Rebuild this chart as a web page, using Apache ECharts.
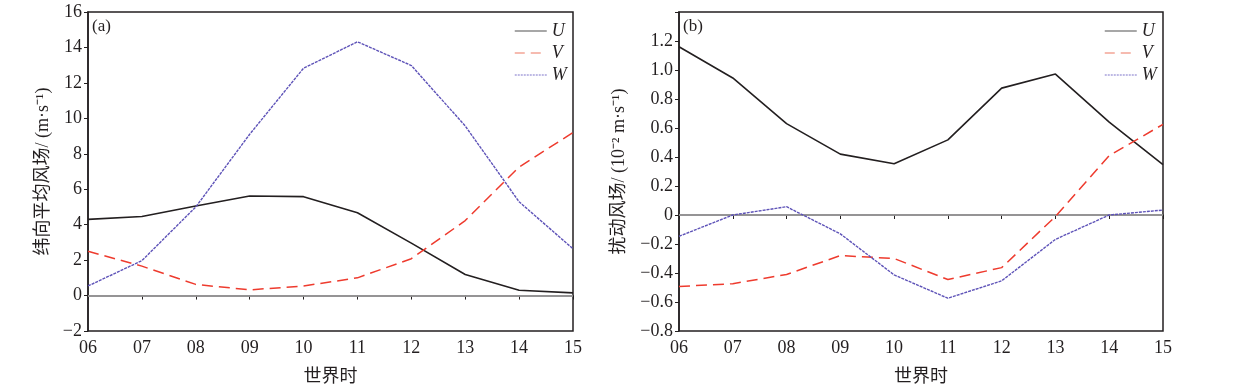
<!DOCTYPE html>
<html>
<head>
<meta charset="utf-8">
<script src="https://cdn.jsdelivr.net/npm/echarts@6/dist/echarts.min.js"></script>
<style>
  html, body { margin: 0; padding: 0; background: #fff; }
  #main { width: 1239px; height: 391px; }
</style>
</head>
<body>
<div id="main"></div>
<script>
// 时次
var hours = ['06', '07', '08', '09', '10', '11', '12', '13', '14', '15'];
// (a) 纬向平均风场
var meanU = [4.3, 4.46, 5.05, 5.62, 5.58, 4.67, 2.96, 1.19, 0.3, 0.15];
var meanV = [2.5, 1.66, 0.63, 0.32, 0.54, 1.0, 2.08, 4.23, 7.25, 9.2];
var meanW = [0.54, 1.97, 5.0, 9.1, 12.83, 14.32, 12.98, 9.57, 5.29, 2.64];
// (b) 扰动风场
var pertU = [1.16, 0.945, 0.63, 0.42, 0.354, 0.518, 0.875, 0.972, 0.64, 0.348];
var pertV = [-0.493, -0.474, -0.41, -0.28, -0.30, -0.445, -0.363, -0.01, 0.41, 0.625];
var pertW = [-0.147, 0.0, 0.057, -0.13, -0.413, -0.574, -0.454, -0.168, 0.0, 0.034];

var serif = '"Liberation Serif", "Times New Roman", serif';
var cjk = '"Liberation Serif", "Noto Sans CJK SC", serif';
var txt = '#231f20';

var styles = {
    U: { color: '#231f20', width: 1.6, type: 'solid' },
    V: { color: '#ee3b2e', width: 1.5, type: [11, 6] },
    W: { color: '#5e53b8', width: 1.4, type: [3, 1] }
};
// 图例里的线颜色偏浅
var legendLines = [
    { name: 'U', lineStyle: { color: '#8a8a8a', width: 1.5, type: 'solid' } },
    { name: 'V', lineStyle: { color: '#f3a596', width: 1.5, type: [10, 6] } },
    { name: 'W', lineStyle: { color: '#a9a3dc', width: 1.5, type: [2, 1] } }
];

function minus(s) { return String(s).replace('-', '\u2212'); }

function makeSeries(name, data, idx, zero) {
    var s = {
        name: name,
        type: 'line',
        data: data,
        xAxisIndex: idx,
        yAxisIndex: idx,
        symbol: 'none',
        lineStyle: styles[name],
        itemStyle: { color: styles[name].color },
        z: 3
    };
    if (zero) {
        s.markLine = {
            silent: true,
            symbol: 'none',
            label: { show: false },
            lineStyle: { color: '#aaaaaa', width: 1.5, type: 'solid' },
            data: [{ yAxis: 0 }],
            z: 1
        };
    }
    return s;
}

function xAxis(idx) {
    return {
        type: 'category',
        gridIndex: idx,
        data: hours,
        boundaryGap: false,
        name: '世界时',
        nameLocation: 'middle',
        nameGap: 37,
        nameTextStyle: { fontFamily: cjk, fontSize: 18, color: txt },
        axisLine: { lineStyle: { color: '#231f20', width: 1.5 } },
        axisTick: { alignWithLabel: true, length: 4, lineStyle: { color: '#231f20' } },
        axisLabel: { fontFamily: serif, fontSize: 18, color: txt, margin: 8 },
        splitLine: { show: false }
    };
}

function legend(left) {
    return {
        data: legendLines, orient: 'vertical', left: left, top: 17,
        itemWidth: 32, itemHeight: 10, itemGap: 4,
        itemStyle: { opacity: 0 },
        textStyle: { fontFamily: serif, fontStyle: 'italic', fontSize: 18, color: txt }
    };
}

var option = {
    animation: false,
    backgroundColor: '#fff',
    grid: [
        { left: 88, top: 12, width: 485, height: 322, show: true, borderColor: '#231f20', borderWidth: 1.5 },
        { left: 679, top: 12, width: 484, height: 323, show: true, borderColor: '#231f20', borderWidth: 1.5 }
    ],
    legend: [legend(509), legend(1099)],
    graphic: [
        { type: 'text', left: 92, top: 18, style: { text: '(a)', font: '17px "Liberation Serif"', fill: txt } },
        { type: 'text', left: 683, top: 18, style: { text: '(b)', font: '17px "Liberation Serif"', fill: txt } }
    ],
    xAxis: [xAxis(0), xAxis(1)],
    yAxis: [
        {
            type: 'value', gridIndex: 0, min: -2, max: 16, interval: 2,
            name: '纬向平均风场/ (m·s⁻¹)',
            nameLocation: 'middle', nameGap: 36,
            nameTextStyle: { fontFamily: cjk, fontSize: 18, color: txt },
            axisLine: { show: true, lineStyle: { color: '#231f20', width: 1.5 } },
            axisTick: { show: true, length: 4, lineStyle: { color: '#231f20' } },
            axisLabel: { fontFamily: serif, fontSize: 18, color: txt, margin: 6, formatter: function (v) { return minus(v); } },
            splitLine: { show: false }
        },
        {
            type: 'value', gridIndex: 1, min: -0.8, max: 1.4, interval: 0.2,
            name: '扰动风场/ (10⁻² m·s⁻¹)',
            nameLocation: 'middle', nameGap: 51,
            nameTextStyle: { fontFamily: cjk, fontSize: 18, color: txt },
            axisLine: { show: true, lineStyle: { color: '#231f20', width: 1.5 } },
            axisTick: { show: true, length: 4, lineStyle: { color: '#231f20' } },
            axisLabel: {
                fontFamily: serif, fontSize: 18, color: txt, margin: 6,
                formatter: function (v) {
                    if (v > 1.3) return '';
                    if (Math.abs(v) < 1e-9) return '0';
                    return minus(v.toFixed(1));
                }
            },
            splitLine: { show: false }
        }
    ],
    series: [
        makeSeries('U', meanU, 0, true),
        makeSeries('V', meanV, 0, false),
        makeSeries('W', meanW, 0, false),
        makeSeries('U', pertU, 1, true),
        makeSeries('V', pertV, 1, false),
        makeSeries('W', pertW, 1, false)
    ]
};

var myChart = echarts.init(document.getElementById('main'));
myChart.setOption(option);
window.addEventListener('resize', function () {
    myChart.resize();
}, false);
</script>
</body>
</html>
